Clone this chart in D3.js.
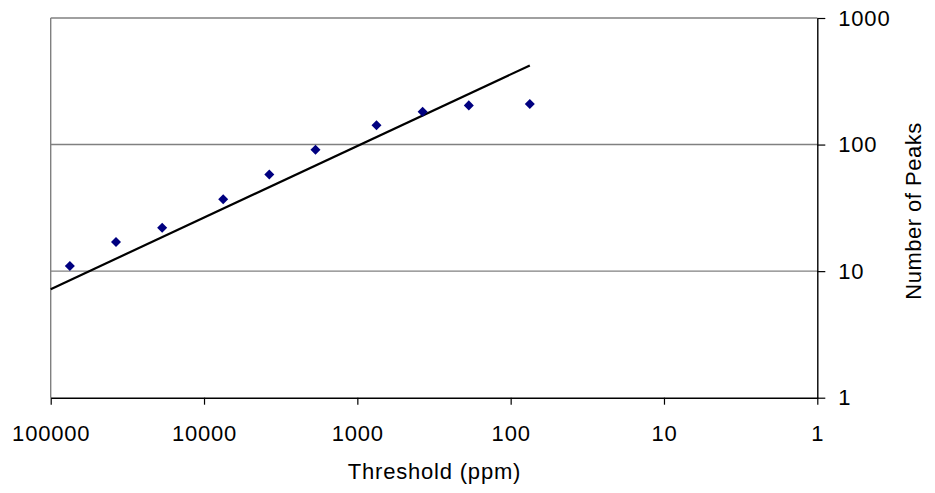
<!DOCTYPE html>
<html>
<head>
<meta charset="utf-8">
<script src="https://cdn.jsdelivr.net/npm/d3@7"></script>
<style>
  body { margin: 0; background: #fff; }
  text { font-family: 'Liberation Sans', Arial, Helvetica, sans-serif; }
</style>
</head>
<body>
<div id="chart"></div>
<script>
// Data
const thresholds = [75000, 37500, 18750, 7500, 3750, 1875, 750, 375, 187.5, 75]
const peaks = [11, 17, 22, 37, 58, 91, 142, 182, 204, 209]
// power trendline, read at its two ends
const trendX = [100000, 75]
const trendY = [7.2, 422]
const xTicks = [100000, 10000, 1000, 100, 10, 1]
const yTicks = [1, 10, 100, 1000]

// Dimensions
let dimensions = {
  width: 935,
  height: 493,
  margin: { top: 18, bottom: 95.3, left: 50.7, right: 117.7 }
}
dimensions.containerWidth = dimensions.width - dimensions.margin.left - dimensions.margin.right
dimensions.containerHeight = dimensions.height - dimensions.margin.top - dimensions.margin.bottom

const svg = d3.select('#chart')
  .append('svg')
  .attr('width', dimensions.width)
  .attr('height', dimensions.height)

const container = svg.append('g')
  .attr('transform', `translate(${dimensions.margin.left}, ${dimensions.margin.top})`)

// Scales
const xScale = d3.scaleLog()
  .domain([100000, 1])
  .range([0, dimensions.containerWidth])

const yScale = d3.scaleLog()
  .domain([1, 1000])
  .range([dimensions.containerHeight, 0])

// Gridlines
container.append('g')
  .selectAll('line')
  .data(yTicks.slice(1))
  .join('line')
  .attr('x1', 0)
  .attr('x2', dimensions.containerWidth)
  .attr('y1', d => yScale(d))
  .attr('y2', d => yScale(d))
  .attr('stroke', '#808080')
  .attr('stroke-width', 1.4)

// left frame edge
container.append('line')
  .attr('x1', 0).attr('x2', 0)
  .attr('y1', 0).attr('y2', dimensions.containerHeight)
  .attr('stroke', '#808080')
  .attr('stroke-width', 1.4)

// Axes
const xAxis = d3.axisBottom(xScale)
  .tickValues(xTicks)
  .tickFormat(d3.format('d'))
  .tickSize(7)
  .tickSizeOuter(0)
  .tickPadding(21)

const yAxis = d3.axisRight(yScale)
  .tickValues(yTicks)
  .tickFormat(d3.format('d'))
  .tickSize(8)
  .tickSizeOuter(0)
  .tickPadding(13)

const xAxisGroup = container.append('g')
  .call(xAxis)
  .attr('transform', `translate(0, ${dimensions.containerHeight})`)

const yAxisGroup = container.append('g')
  .call(yAxis)
  .attr('transform', `translate(${dimensions.containerWidth}, 0)`)

svg.selectAll('.domain').attr('stroke', '#000').attr('stroke-width', 1.4)
svg.selectAll('.tick line').attr('stroke', '#000').attr('stroke-width', 1.2)
svg.selectAll('.tick text')
  .attr('fill', '#000')
  .style('font-size', '22px')
  .style('letter-spacing', '0.8px')
xAxisGroup.selectAll('.tick text').attr('dy', '0.71em')

xAxisGroup.append('text')
  .attr('x', dimensions.containerWidth / 2 + 0.5)
  .attr('y', 81)
  .attr('fill', 'black')
  .style('font-size', '22px')
  .style('letter-spacing', '0.8px')
  .style('text-anchor', 'middle')
  .text('Threshold (ppm)')

yAxisGroup.append('text')
  .attr('transform', `translate(${dimensions.margin.right - 14}, ${211 - dimensions.margin.top}) rotate(-90)`)
  .attr('fill', 'black')
  .style('font-size', '22px')
  .style('letter-spacing', '0.5px')
  .style('text-anchor', 'middle')
  .text('Number of Peaks')

// Trendline
const line = d3.line()
  .x(d => xScale(d[0]))
  .y(d => yScale(d[1]))

container.append('path')
  .datum(trendX.map((x, i) => [x, trendY[i]]))
  .attr('d', line)
  .attr('fill', 'none')
  .attr('stroke', '#000')
  .attr('stroke-width', 2.2)

// Markers
container.append('g')
  .selectAll('path')
  .data(thresholds)
  .join('path')
  .attr('d', d3.symbol(d3.symbolDiamond2, 64))
  .attr('transform', (d, i) => `translate(${xScale(d)}, ${yScale(peaks[i])})`)
  .attr('fill', '#000080')
</script>
</body>
</html>
